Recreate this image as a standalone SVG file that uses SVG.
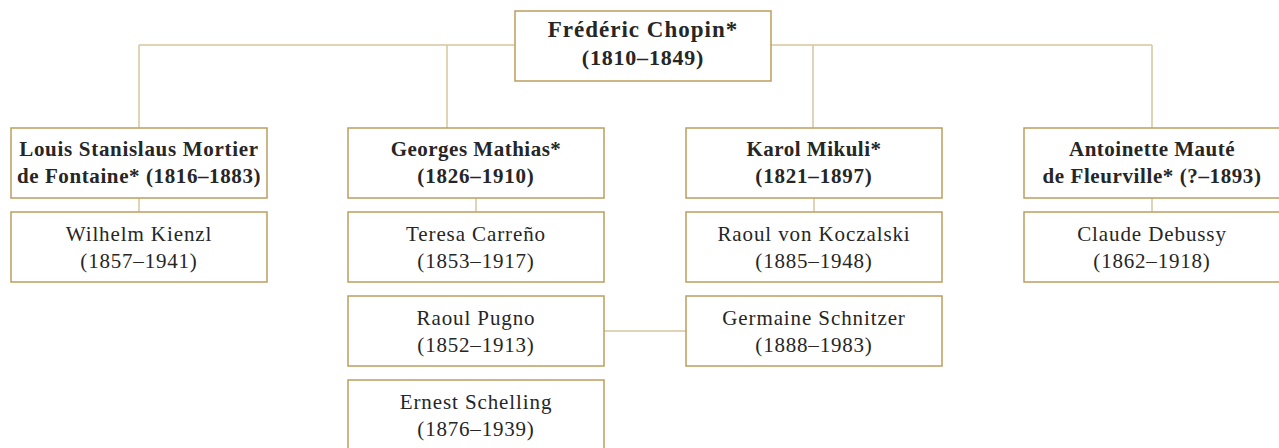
<svg xmlns="http://www.w3.org/2000/svg" width="1279" height="448" viewBox="0 0 1279 448">
<style>
.box{fill:#fff;stroke:#BD9D5E;stroke-width:1.5}
.ln{stroke:#D6C6A0;stroke-width:1.5;fill:none}
text{font-family:"Liberation Serif","Times New Roman",serif;fill:#262626;text-anchor:middle;font-size:21px;letter-spacing:0.9px}
.b{font-weight:bold;letter-spacing:0.5px}
.y{letter-spacing:0.8px}
.t{font-size:23px;letter-spacing:1px}
</style>
<rect width="1279" height="448" fill="#fff"/>
<g id="connectors">
<path class="ln" d="M139,45H1152M139,45V128M447,45V128M813,45V128M1152,45V128"/>
<path class="ln" d="M139,198V212M476,198V212M814,198V212M1152,198V212"/>
<path class="ln" d="M604,331H686"/>
</g>
<g id="chopin"><rect class="box" x="515" y="11" width="256" height="70"/><text class="b t" x="643" y="37">Frédéric Chopin*</text><text class="b y" x="643" y="65" style="font-size:22px">(1810–1849)</text></g>
<g id="fontaine"><rect class="box" x="11" y="128" width="256" height="70"/><text class="b" x="139" y="156" style="letter-spacing:0.7px">Louis Stanislaus Mortier</text><text class="b" x="139" y="183" style="letter-spacing:0.6px">de Fontaine* (1816–1883)</text></g>
<g id="mathias"><rect class="box" x="348" y="128" width="256" height="70"/><text class="b" x="476" y="156">Georges Mathias*</text><text class="b y" x="476" y="183">(1826–1910)</text></g>
<g id="mikuli"><rect class="box" x="686" y="128" width="256" height="70"/><text class="b" x="814" y="156">Karol Mikuli*</text><text class="b y" x="814" y="183">(1821–1897)</text></g>
<g id="fleurville"><rect class="box" x="1024" y="128" width="256" height="70"/><text class="b" x="1152" y="156">Antoinette Mauté</text><text class="b" x="1152" y="183" style="letter-spacing:0.6px">de Fleurville* (?–1893)</text></g>
<g id="kienzl"><rect class="box" x="11" y="212" width="256" height="70"/><text x="139" y="241">Wilhelm Kienzl</text><text class="y" x="139" y="268">(1857–1941)</text></g>
<g id="carreno"><rect class="box" x="348" y="212" width="256" height="70"/><text x="476" y="241">Teresa Carreño</text><text class="y" x="476" y="268">(1853–1917)</text></g>
<g id="koczalski"><rect class="box" x="686" y="212" width="256" height="70"/><text x="814" y="241">Raoul von Koczalski</text><text class="y" x="814" y="268">(1885–1948)</text></g>
<g id="debussy"><rect class="box" x="1024" y="212" width="256" height="70"/><text x="1152" y="241">Claude Debussy</text><text class="y" x="1152" y="268">(1862–1918)</text></g>
<g id="pugno"><rect class="box" x="348" y="296" width="256" height="70"/><text x="476" y="325">Raoul Pugno</text><text class="y" x="476" y="352">(1852–1913)</text></g>
<g id="schnitzer"><rect class="box" x="686" y="296" width="256" height="70"/><text x="814" y="325">Germaine Schnitzer</text><text class="y" x="814" y="352">(1888–1983)</text></g>
<g id="schelling"><rect class="box" x="348" y="380" width="256" height="70"/><text x="476" y="409">Ernest Schelling</text><text class="y" x="476" y="436">(1876–1939)</text></g>
</svg>
